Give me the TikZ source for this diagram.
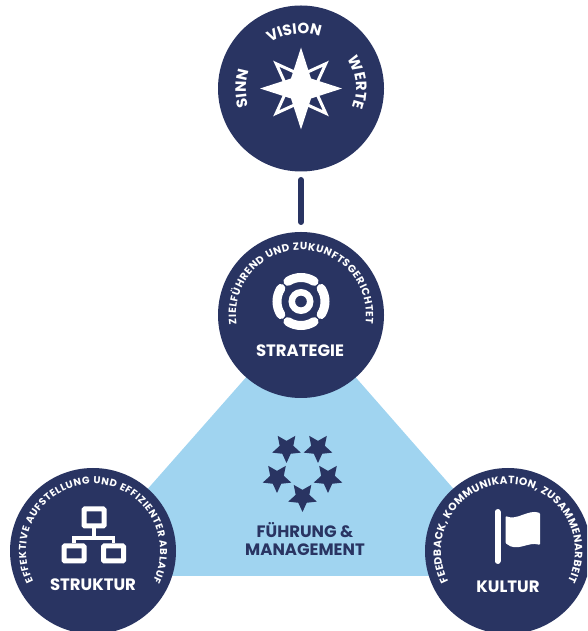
\documentclass[tikz,border=0pt]{standalone}
\usepackage{fontspec}
\setmainfont{Poppins}
\usetikzlibrary{shapes.geometric,decorations.text}
\definecolor{navy}{HTML}{293462}
\definecolor{skyblue}{HTML}{A0D4F0}

\begin{document}
\begin{tikzpicture}[x = 1pt, y = 1pt,
		disc/.style = {circle, fill = navy, inner sep = 0pt, minimum size = 166pt},
		title/.style = {text = white, font = \bfseries\fontsize{16.5}{16.5}\selectfont, inner sep = 0pt},
		mgmt/.style = {text = navy, font = \bfseries\fontsize{16.5}{18.5}\selectfont, align = center, inner sep = 0pt},
		badge/.style = {star, star points = 5, star point ratio = 2.1, fill = navy, inner sep = 0pt,
			minimum size = 30pt, shape border rotate = 180},
		box/.style = {rectangle, draw = white, line width = 5pt, inner sep = 0pt, rounded corners = 1pt},
		ring/.style = {draw = white, line cap = round, line width = 9pt},
		wire/.style = {draw = white, line width = 3.5pt},
	]

	\path [use as bounding box, clip] (0,0) rectangle (587,631);

	% the discs
	\coordinate (c_1) at (301,542.5);
	\coordinate (c_2) at (301,316);
	\coordinate (c_3) at (93,80);
	\coordinate (c_4) at (508,80);

	\fill [skyblue] (c_2) -- (c_3) -- (93,55) -- (508,55) -- (c_4) -- cycle;

	\node [disc] (d_1) at (c_1) {};
	\node [disc] (d_2) at (c_2) {};
	\node [disc] (d_3) at (c_3) {};
	\node [disc] (d_4) at (c_4) {};

	\coordinate (l_1) at (301,451);
	\coordinate (l_2) at (301,409);
	\draw [navy, line width = 6pt, line cap = round] (l_1) -- (l_2);

	% top disc
	\node [star, star points = 4, star point ratio = 2.6, draw = white, fill = navy, line width = 3pt,
		inner sep = 0pt, minimum size = 70pt, rotate = 45] (w_2) at (c_1) {};
	\node [star, star points = 4, star point ratio = 2.9, fill = white,
		inner sep = 0pt, minimum size = 82pt] (w_1) at (c_1) {};

	\path [decorate, decoration = {text along path, text color = white, text align = center,
		text = {|\bfseries\fontsize{15}{15}\selectfont|VISION}}]
		([shift = {(130:55)}]c_1) arc [start angle = 130, end angle = 64, radius = 55pt];
	\path [decorate, decoration = {text along path, text color = white, text align = center,
		text = {|\bfseries\fontsize{15}{15}\selectfont|WERTE}}]
		([shift = {(43:55)}]c_1) arc [start angle = 43, end angle = -31, radius = 55pt];
	\path [decorate, decoration = {text along path, text color = white, text align = center,
		text = {|\bfseries\fontsize{15}{15}\selectfont|SINN}}]
		([shift = {(212:55)}]c_1) arc [start angle = 212, end angle = 148, radius = 55pt];

	% strategie
	\foreach \a in {0,90,180,270}
		\draw [ring] ([shift = {(\a+33:24)}]301,329.5) arc [start angle = \a+33, end angle = \a-33, radius = 24pt];
	\draw [draw = white, line width = 6.5pt] (301,329.5) circle (9.2pt);

	\path [decorate, decoration = {text along path, text color = white, text align = {fit to path},
		text = {|\bfseries\fontsize{10.4}{10.4}\selectfont|ZIELFÜHREND UND ZUKUNFTSGERICHTET}}]
		([shift = {(188:65)}]c_2) arc [start angle = 188, end angle = -8, radius = 65pt];
	\node [title] (t_2) at (300,280) {STRATEGIE};

	% struktur
	\node [box, minimum width = 20pt, minimum height = 17pt] (b_1) at (94,113.5) {};
	\node [box, minimum width = 20pt, minimum height = 15pt] (b_2) at (74,77.5) {};
	\node [box, minimum width = 20pt, minimum height = 15pt] (b_3) at (113.5,77.5) {};
	\coordinate (j_1) at (94,93);
	\draw [wire] (b_1.south) -- (j_1);
	\draw [wire] (b_2.north) |- (j_1) -| (b_3.north);

	\path [decorate, decoration = {text along path, text color = white, text align = {fit to path},
		text = {|\bfseries\fontsize{10}{10}\selectfont|EFFEKTIVE AUFSTELLUNG UND EFFIZIENTER ABLAUF}}]
		([shift = {(207:67)}]c_3) arc [start angle = 207, end angle = -27, radius = 67pt];
	\node [title] (t_3) at (93,46) {STRUKTUR};

	% kultur
	\coordinate (p_1) at (497.5,119);
	\coordinate (p_2) at (497.5,70);
	\draw [draw = white, line width = 6pt, line cap = round] (p_1) -- (p_2);
	\fill [white, rounded corners = 1pt] (505.5,115)
		.. controls (517,110) and (528,122) .. (540,118) -- (540,86)
		.. controls (528,90) and (517,78) .. (505.5,88) -- cycle;

	\path [decorate, decoration = {text along path, text color = white, text align = {fit to path},
		text = {|\bfseries\fontsize{10.6}{10.6}\selectfont|FEEDBACK, KOMMUNIKATION, ZUSAMMENARBEIT}}]
		([shift = {(207:67)}]c_4) arc [start angle = 207, end angle = -27, radius = 67pt];
	\node [title] (t_4) at (508,44.5) {KULTUR};

	% fuehrung
	\node [badge] (s_1) at (286.5,183) {};
	\node [badge] (s_2) at (318,183) {};
	\node [badge] (s_3) at (277,153) {};
	\node [badge] (s_4) at (328,153) {};
	\node [badge] (s_5) at (302.5,134) {};
	\node [mgmt] (t_1) at (305,92) {FÜHRUNG \&\\MANAGEMENT};

\end{tikzpicture}
\end{document}
